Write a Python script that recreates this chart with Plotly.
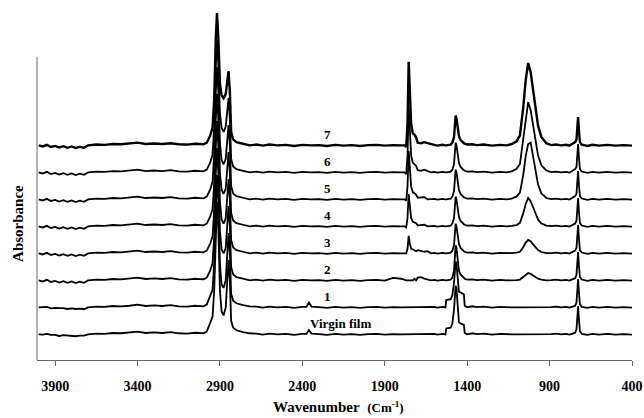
import plotly.graph_objects as go

# ---------------- data ----------------
wavenumber = [
    4000, 3975, 3950, 3925, 3900, 3875, 3850, 3825, 3800, 3775, 3750, 3725, 3700,
    3650, 3600, 3550, 3500, 3450, 3400, 3350, 3300, 3250, 3200, 3150, 3100, 3050, 3000,
    2980, 2960, 2945, 2935, 2925, 2918, 2910, 2900, 2890, 2878, 2865, 2855, 2848, 2840,
    2832, 2820, 2800,
    2760, 2720, 2680, 2640, 2600, 2550, 2500, 2450, 2400, 2375, 2360, 2345, 2300, 2250,
    2200, 2150, 2100, 2050, 2000, 1950, 1900, 1850, 1800,
    1780, 1770, 1762, 1755, 1748, 1740, 1730, 1720, 1710, 1700, 1680, 1660, 1640, 1620,
    1600, 1580, 1550,
    1532, 1527, 1500, 1490, 1480, 1475, 1470, 1465, 1458, 1450, 1440, 1430, 1420, 1415,
    1400, 1370, 1340, 1300, 1250, 1200,
    1160, 1130, 1100, 1080, 1060, 1045, 1030, 1015, 1000, 985, 970, 950, 920, 890, 860,
    830, 800, 780, 760, 745, 737, 732, 727, 722, 716, 705, 690, 670, 640, 600, 550, 500,
    450, 400,
]

# baseline ripple shared by all spectra
baseline_ripple = {
    4000: 0.000, 3975: -0.004, 3950: 0.002, 3925: -0.006, 3900: -0.002, 3875: -0.008,
    3850: -0.003, 3825: -0.009, 3800: -0.004, 3775: -0.010, 3750: -0.005, 3725: -0.009,
    3700: 0.000, 3650: 0.003, 3600: 0.002, 3550: 0.005, 3500: 0.004, 3450: 0.006,
    3400: 0.010, 3350: 0.005, 3300: 0.007, 3250: 0.005, 3200: 0.008, 3150: 0.004,
    3100: 0.003, 3050: 0.006, 3000: 0.004, 2680: 0.003, 2640: -0.001, 2600: 0.003,
    2550: 0.000, 2500: 0.002, 2450: -0.002, 2400: 0.002, 2300: 0.001, 2250: -0.002,
    2200: 0.002, 2150: -0.001, 2100: 0.001, 2050: -0.002, 2000: 0.001, 1950: 0.002,
    1900: -0.001, 1850: 0.001, 1800: 0.000, 1600: 0.002, 1580: -0.001, 1550: 0.002,
    1370: 0.004, 1340: 0.001, 1300: 0.003, 1250: -0.001, 1200: 0.002, 890: 0.001,
    860: 0.003, 830: 0.000, 800: 0.002, 780: -0.001, 690: 0.001, 670: -0.002,
    640: 0.002, 600: -0.001, 550: 0.002, 500: -0.001, 450: 0.001, 400: -0.001,
}

# absorbance above each spectrum's own baseline
virgin_film = {
    3975: 0.003, 3925: 0.004, 3875: 0.002, 3825: 0.005, 3775: 0.003, 3725: 0.004,
    2980: 0.010, 2960: 0.040, 2945: 0.065, 2935: 0.16, 2925: 0.40, 2918: 0.49, 2910: 0.40,
    2900: 0.16, 2890: 0.085, 2878: 0.070, 2865: 0.10, 2855: 0.22, 2848: 0.275, 2840: 0.20,
    2832: 0.05, 2820: 0.025, 2800: 0.015, 2760: 0.008, 2720: 0.004,
    2375: 0.002, 2360: 0.016, 2345: 0.003,
    1527: 0.022, 1500: 0.025, 1490: 0.04, 1480: 0.09, 1475: 0.15, 1470: 0.18, 1465: 0.17,
    1458: 0.09, 1450: 0.045, 1440: 0.040, 1430: 0.038, 1420: 0.035, 1415: 0.005,
    760: 0.003, 745: 0.006, 737: 0.018, 732: 0.06, 727: 0.105, 722: 0.055, 716: 0.012,
    705: 0.002,
}
film_1 = {
    3975: 0.004, 3925: 0.002, 3875: 0.005, 3825: 0.003, 3775: 0.004, 3725: 0.002,
    2980: 0.010, 2960: 0.040, 2945: 0.065, 2935: 0.16, 2925: 0.40, 2918: 0.49, 2910: 0.40,
    2900: 0.16, 2890: 0.085, 2878: 0.072, 2865: 0.10, 2855: 0.22, 2848: 0.275, 2840: 0.20,
    2832: 0.05, 2820: 0.025, 2800: 0.015, 2760: 0.008, 2720: 0.004,
    2375: 0.002, 2360: 0.018, 2345: 0.003,
    1527: 0.027, 1500: 0.030, 1490: 0.045, 1480: 0.09, 1475: 0.15, 1470: 0.17, 1465: 0.16,
    1458: 0.10, 1450: 0.058, 1440: 0.055, 1430: 0.052, 1420: 0.048, 1415: 0.006,
    760: 0.003, 745: 0.006, 737: 0.018, 732: 0.06, 727: 0.105, 722: 0.055, 716: 0.012,
    705: 0.002,
}
film_2 = {
    2980: 0.010, 2960: 0.035, 2945: 0.062, 2935: 0.16, 2925: 0.40, 2918: 0.49, 2910: 0.40,
    2900: 0.18, 2890: 0.115, 2878: 0.100, 2865: 0.12, 2855: 0.22, 2848: 0.275, 2840: 0.20,
    2832: 0.05, 2820: 0.022, 2800: 0.012, 2760: 0.006,
    1850: 0.008, 1800: 0.006, 1720: 0.006, 1700: 0.010, 1680: 0.012, 1660: 0.006,
    1640: 0.004,
    1500: 0.003, 1490: 0.010, 1480: 0.035, 1475: 0.08, 1470: 0.13, 1465: 0.12, 1458: 0.07,
    1450: 0.035, 1440: 0.022, 1430: 0.014, 1420: 0.008, 1415: 0.006, 1400: 0.003,
    1100: 0.001, 1080: 0.003, 1060: 0.012, 1045: 0.021, 1030: 0.027, 1015: 0.024,
    1000: 0.018, 985: 0.011, 970: 0.006, 950: 0.003,
    760: 0.004, 745: 0.008, 737: 0.02, 732: 0.06, 727: 0.105, 722: 0.055, 716: 0.012,
    705: 0.003,
}
film_3 = {
    2980: 0.010, 2960: 0.035, 2945: 0.062, 2935: 0.16, 2925: 0.40, 2918: 0.49, 2910: 0.40,
    2900: 0.19, 2890: 0.125, 2878: 0.110, 2865: 0.13, 2855: 0.22, 2848: 0.275, 2840: 0.20,
    2832: 0.05, 2820: 0.022, 2800: 0.012, 2760: 0.006,
    1762: 0.017, 1755: 0.065, 1748: 0.036, 1740: 0.017, 1730: 0.015, 1720: 0.012,
    1710: 0.008, 1700: 0.012, 1680: 0.010, 1660: 0.006, 1640: 0.008,
    1500: 0.003, 1490: 0.010, 1480: 0.030, 1475: 0.07, 1470: 0.11, 1465: 0.10, 1458: 0.06,
    1450: 0.035, 1440: 0.02, 1430: 0.012, 1420: 0.008, 1415: 0.006, 1400: 0.003,
    1130: 0.001, 1100: 0.003, 1080: 0.006, 1060: 0.023, 1045: 0.040, 1030: 0.050,
    1015: 0.045, 1000: 0.033, 985: 0.021, 970: 0.012, 950: 0.005, 920: 0.001,
    760: 0.004, 745: 0.010, 737: 0.02, 732: 0.06, 727: 0.105, 722: 0.055, 716: 0.012,
    705: 0.003,
}
film_4 = {
    2980: 0.010, 2960: 0.035, 2945: 0.062, 2935: 0.16, 2925: 0.40, 2918: 0.49, 2910: 0.40,
    2900: 0.20, 2890: 0.135, 2878: 0.120, 2865: 0.14, 2855: 0.23, 2848: 0.275, 2840: 0.20,
    2832: 0.05, 2820: 0.022, 2800: 0.012, 2760: 0.006,
    1770: -0.004, 1762: 0.031, 1755: 0.12, 1748: 0.066, 1740: 0.031, 1730: 0.018,
    1720: 0.016, 1710: 0.012, 1700: 0.004, 1680: 0.005, 1660: 0.006,
    1500: 0.003, 1490: 0.010, 1480: 0.030, 1475: 0.07, 1470: 0.11, 1465: 0.10, 1458: 0.06,
    1450: 0.035, 1440: 0.02, 1430: 0.012, 1420: 0.008, 1415: 0.006, 1400: 0.003,
    1130: 0.002, 1100: 0.005, 1080: 0.013, 1060: 0.048, 1045: 0.083, 1030: 0.105,
    1015: 0.093, 1000: 0.068, 985: 0.044, 970: 0.025, 950: 0.011, 920: 0.003,
    760: 0.004, 745: 0.010, 737: 0.02, 732: 0.06, 727: 0.105, 722: 0.055, 716: 0.012,
    705: 0.003,
}
film_5 = {
    2980: 0.010, 2960: 0.035, 2945: 0.065, 2935: 0.17, 2925: 0.40, 2918: 0.49, 2910: 0.40,
    2900: 0.21, 2890: 0.145, 2878: 0.130, 2865: 0.15, 2855: 0.23, 2848: 0.275, 2840: 0.20,
    2832: 0.05, 2820: 0.022, 2800: 0.012, 2760: 0.006,
    1770: -0.005, 1762: 0.047, 1755: 0.18, 1748: 0.10, 1740: 0.047, 1730: 0.027,
    1720: 0.023, 1710: 0.018, 1700: 0.006, 1680: 0.006, 1660: 0.008,
    1500: 0.003, 1490: 0.010, 1480: 0.030, 1475: 0.07, 1470: 0.11, 1465: 0.10, 1458: 0.06,
    1450: 0.035, 1440: 0.02, 1430: 0.012, 1420: 0.008, 1415: 0.006, 1400: 0.003,
    1130: 0.003, 1100: 0.011, 1080: 0.025, 1060: 0.090, 1045: 0.160, 1030: 0.205,
    1015: 0.21, 1000: 0.16, 985: 0.10, 970: 0.055, 950: 0.022, 920: 0.005,
    760: 0.005, 745: 0.012, 737: 0.02, 732: 0.06, 727: 0.105, 722: 0.055, 716: 0.012,
    705: 0.003,
}
film_6 = {
    2980: 0.010, 2960: 0.035, 2945: 0.065, 2935: 0.17, 2925: 0.40, 2918: 0.49, 2910: 0.40,
    2900: 0.22, 2890: 0.165, 2878: 0.150, 2865: 0.17, 2855: 0.24, 2848: 0.275, 2840: 0.20,
    2832: 0.05, 2820: 0.022, 2800: 0.012, 2760: 0.006,
    1770: -0.006, 1762: 0.062, 1755: 0.24, 1748: 0.13, 1740: 0.062, 1730: 0.036,
    1720: 0.031, 1710: 0.024, 1700: 0.008, 1680: 0.006, 1660: 0.010, 1640: 0.006,
    1500: 0.003, 1490: 0.010, 1480: 0.030, 1475: 0.07, 1470: 0.11, 1465: 0.10, 1458: 0.06,
    1450: 0.035, 1440: 0.02, 1430: 0.012, 1420: 0.008, 1415: 0.006, 1400: 0.003,
    1130: 0.004, 1100: 0.013, 1080: 0.031, 1060: 0.12, 1045: 0.205, 1030: 0.26,
    1015: 0.231, 1000: 0.169, 985: 0.109, 970: 0.062, 950: 0.026, 920: 0.007,
    760: 0.005, 745: 0.012, 737: 0.02, 732: 0.06, 727: 0.105, 722: 0.055, 716: 0.012,
    705: 0.003,
}
film_7 = {
    2980: 0.010, 2960: 0.035, 2945: 0.065, 2935: 0.17, 2925: 0.40, 2918: 0.49, 2910: 0.40,
    2900: 0.23, 2890: 0.185, 2878: 0.175, 2865: 0.19, 2855: 0.24, 2848: 0.275, 2840: 0.20,
    2832: 0.05, 2820: 0.022, 2800: 0.012, 2760: 0.006,
    1770: -0.006, 1762: 0.08, 1755: 0.31, 1748: 0.17, 1740: 0.08, 1730: 0.045,
    1720: 0.040, 1710: 0.030, 1700: 0.010, 1680: 0.008, 1660: 0.012, 1640: 0.008,
    1620: 0.004,
    1500: 0.003, 1490: 0.010, 1480: 0.030, 1475: 0.07, 1470: 0.11, 1465: 0.10, 1458: 0.06,
    1450: 0.035, 1440: 0.02, 1430: 0.012, 1420: 0.008, 1415: 0.006, 1400: 0.003,
    1130: 0.005, 1100: 0.015, 1080: 0.037, 1060: 0.14, 1045: 0.241, 1030: 0.305,
    1015: 0.271, 1000: 0.198, 985: 0.128, 970: 0.073, 950: 0.031, 920: 0.008,
    760: 0.005, 745: 0.012, 737: 0.02, 732: 0.06, 727: 0.105, 722: 0.055, 716: 0.012,
    705: 0.003,
}

series_labels = ["Virgin film", "1", "2", "3", "4", "5", "6", "7"]
series_bands = [virgin_film, film_1, film_2, film_3, film_4, film_5, film_6, film_7]
tick_values = [3900, 3400, 2900, 2400, 1900, 1400, 900, 400]
tick_labels = ["3900", "3400", "2900", "2400", "1900", "1400", "900", "400"]

# ---------------- figure ----------------
STACK = 0.1  # vertical offset between stacked spectra
SERIF = "Liberation Serif"

fig = go.Figure()
for i, (label, band) in enumerate(zip(series_labels, series_bands)):
    off = i * STACK
    y = [off + baseline_ripple.get(w, 0.0) + band.get(w, 0.0) for w in wavenumber]
    fig.add_trace(go.Scatter(
        x=wavenumber, y=y, mode="lines", name=label, showlegend=False,
        line=dict(color="black", width=2.4 if label == "7" else 1.8),
        hoverinfo="skip",
    ))
    fig.add_annotation(
        x=2171 if label == "Virgin film" else 2250, y=off + 0.042,
        xref="x", yref="y", text=label, showarrow=False,
        font=dict(family=SERIF, size=13, color="black", weight="bold"),
        xanchor="center", yanchor="middle",
    )

# y axis line (stops below the top of the tallest peak, as in the reference)
fig.add_shape(type="line", xref="paper", yref="y", x0=0, x1=0, y0=-0.095, y1=1.027,
              line=dict(color="#6a6a6a", width=1))

fig.add_annotation(
    xref="paper", yref="paper", x=0.506, y=-0.132,
    text="<b>Wavenumber</b>  <span style='font-size:13px'><b>(Cm<sup>-1</sup>)</b></span>",
    showarrow=False, font=dict(family=SERIF, size=15, color="black"),
    xanchor="center", yanchor="middle",
)
fig.add_annotation(
    xref="paper", yref="paper", x=-0.032, y=0.386, text="<b>Absorbance</b>",
    textangle=-90, showarrow=False, font=dict(family=SERIF, size=15, color="black"),
    xanchor="center", yanchor="middle",
)

fig.update_layout(
    width=644, height=418,
    margin=dict(l=37, r=12, t=5, b=58, autoexpand=False),
    paper_bgcolor="white", plot_bgcolor="white",
    xaxis=dict(
        range=[4010, 400], tickmode="array", tickvals=tick_values, ticktext=tick_labels,
        showline=True, linecolor="#6a6a6a", linewidth=1, ticks="outside", ticklen=5,
        tickcolor="#6a6a6a", showgrid=False, zeroline=False, automargin=False,
        tickfont=dict(family=SERIF, size=14, color="black", weight="bold"),
        ticklabelstandoff=8,
    ),
    yaxis=dict(range=[-0.095, 1.22], visible=False, automargin=False),
)

# the page's default body margin would shift the 644x418 figure; remove it
fig.write_html(
    "out.html",
    config={"displayModeBar": False},
    post_script=["document.body.style.margin='0';document.body.style.overflow='hidden';"],
)
